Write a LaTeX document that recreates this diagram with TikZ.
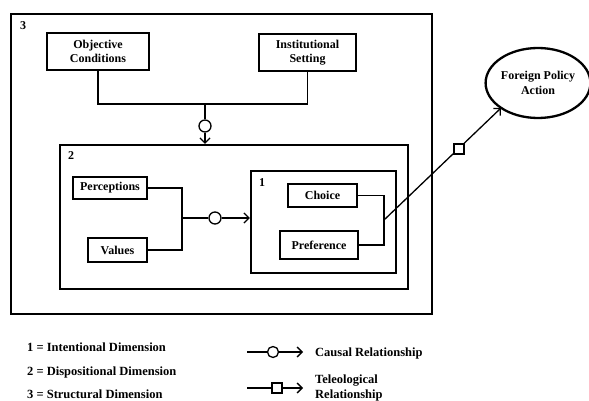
\documentclass[tikz,border=0pt]{standalone}
\usepackage{fontspec}
\setmainfont{Liberation Serif}
\usetikzlibrary{arrows.meta,shapes.geometric}
\tikzset{
  factor/.style={draw,line width=2.6pt,align=center,inner sep=0pt,
    font=\bfseries\fontsize{12}{14}\selectfont},
  dimension/.style={draw,line width=2.3pt,inner sep=0pt},
  dimlabel/.style={anchor=north west,inner sep=0pt,
    font=\bfseries\fontsize{12}{14}\selectfont},
  link/.style={line width=1.3pt},
  leads/.style={link,-{Straight Barb[length=5pt,width=10pt]}},
  causal/.style={circle,draw,line width=1.3pt,fill=white,minimum size=12pt,inner sep=0pt},
  teleo/.style={rectangle,draw,line width=1.3pt,fill=white,minimum size=10pt,inner sep=0pt},
  legend/.style={anchor=base west,inner sep=0pt,align=left,
    font=\bfseries\fontsize{12.5}{15}\selectfont},
}
\begin{document}
\begin{tikzpicture}[x=1pt,y=-1pt]
\useasboundingbox (0,0) rectangle (589,401);
\node[dimension,minimum width=421pt,minimum height=300pt] (dim3) at (221.5,164) {};
\node[dimension,minimum width=348pt,minimum height=144pt] (dim2) at (234,217) {};
\node[dimension,minimum width=145pt,minimum height=102pt] (dim1) at (323.5,222) {};
\node[dimlabel] (lab3) at ([shift={(10pt,-9pt)}]dim3.north west) {3};
\node[dimlabel] (lab2) at ([shift={(9pt,-8pt)}]dim2.north west) {2};
\node[dimlabel] (lab1) at ([shift={(9pt,-9pt)}]dim1.north west) {1};

\node[factor,minimum width=102pt,minimum height=37pt] (objective) at (98,51.5) {Objective\\Conditions};
\node[factor,minimum width=97pt,minimum height=37pt] (institution) at (307.5,52.5) {Institutional\\Setting};
\node[factor,minimum width=74pt,minimum height=22pt] (perceptions) at (110,188) {Perceptions};
\node[factor,minimum width=59pt,minimum height=24pt] (values) at (117.5,250) {Values};
\node[factor,minimum width=69pt,minimum height=23pt] (choice) at (322.5,195.5) {Choice};
\node[factor,minimum width=78pt,minimum height=28pt] (preference) at (319,245) {Preference};
\node[ellipse,draw,line width=2.3pt,minimum width=104pt,minimum height=70pt,align=center,
  inner sep=0pt,font=\bfseries\fontsize{12}{15}\selectfont] (action) at (538,83) {Foreign Policy\\Action};

\coordinate (jtop) at (205,104);
\coordinate (jleft) at (182,218);
\coordinate (jright) at (384,220);
\coordinate (tip) at (501,108);
\draw[link] (objective.south) |- (jtop) -| (institution.south);
\draw[link] (perceptions.east) -| (jleft) |- (values.east);
\draw[link] (choice.east) -| (jright) |- (preference.east);
\node[causal] (c3) at (205,126) {};
\draw[link] (jtop) -- (c3);
\draw[leads] (c3) -- (c3 |- dim2.north);
\node[causal] (c2) at (215,218) {};
\draw[link] (jleft) -- (c2);
\draw[leads] (c2) -- (c2 -| dim1.west);
\draw[leads] (jright) -- (tip);
\node[teleo] (t1) at (459,149) {};

\node[legend] (key1) at (27,351) {1 = Intentional Dimension};
\node[legend] (key2) at (27,375) {2 = Dispositional Dimension};
\node[legend] (key3) at (27,398) {3 = Structural Dimension};
\coordinate (ca) at (247,352);
\coordinate (cb) at (303,352);
\coordinate (ta) at (247,388);
\coordinate (tb) at (303,388);
\draw[leads] (ca) -- (cb);
\node[causal,minimum size=11pt] (cl) at (273,352) {};
\draw[leads] (ta) -- (tb);
\node[teleo] (tl) at (277,388) {};
\node[legend] (keyc) at (315,356) {Causal Relationship};
\node[legend] (keyt) at (315,398) {Teleological\\Relationship};
\end{tikzpicture}
\end{document}
